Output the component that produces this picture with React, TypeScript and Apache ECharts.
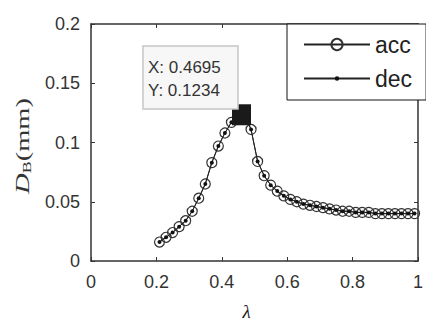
import React, { useEffect, useRef } from 'react';
import * as echarts from 'echarts';

const lambdaValues = [
  0.2095, 0.2295, 0.2495, 0.2695, 0.2895, 0.3095, 0.3295, 0.3495, 0.3695, 0.3895,
  0.4095, 0.4295, 0.4495, 0.4695, 0.4895, 0.5095, 0.5295, 0.5495, 0.5695, 0.5895,
  0.6095, 0.6295, 0.6495, 0.6695, 0.6895, 0.7095, 0.7295, 0.7495, 0.7695, 0.7895,
  0.8095, 0.8295, 0.8495, 0.8695, 0.8895, 0.9095, 0.9295, 0.9495, 0.9695, 0.9895,
];
const accValues = [
  0.016, 0.02, 0.024, 0.029, 0.034, 0.042, 0.053, 0.065, 0.083, 0.097,
  0.108, 0.117, 0.121, 0.1234, 0.111, 0.084, 0.072, 0.064, 0.059, 0.055,
  0.052, 0.05, 0.048, 0.047, 0.046, 0.045, 0.044, 0.043, 0.042, 0.042,
  0.041, 0.041, 0.041, 0.04, 0.04, 0.04, 0.04, 0.04, 0.04, 0.04,
];
const decValues = [
  0.016, 0.02, 0.024, 0.029, 0.034, 0.042, 0.053, 0.065, 0.083, 0.097,
  0.108, 0.117, 0.121, 0.1234, 0.111, 0.084, 0.072, 0.064, 0.059, 0.055,
  0.052, 0.05, 0.048, 0.047, 0.046, 0.045, 0.044, 0.043, 0.042, 0.042,
  0.041, 0.041, 0.041, 0.04, 0.04, 0.04, 0.04, 0.04, 0.04, 0.04,
];
const seriesNames = ['acc', 'dec'];
const datatipX = 0.4695;
const datatipY = 0.1234;
const xTickLabels = ['0', '0.2', '0.4', '0.6', '0.8', '1'];
const yTickLabels = ['0', '0.05', '0.1', '0.15', '0.2'];

const DOT = 'path://M0,0M10,10M5,3A2,2,0,1,1,5,7A2,2,0,1,1,5,3Z';

export default function App() {
  const ref = useRef<HTMLDivElement>(null);
  useEffect(() => {
    document.body.style.margin = '0';
    const chart = echarts.init(ref.current!, null, { renderer: 'svg' });
    const axisColor = '#333';
    const lineColor = '#222';
    const sans = 'Liberation Sans, Arial, sans-serif';
    const serif = 'Liberation Serif, Times New Roman, serif';
    const accData = lambdaValues.map((x, i) => [x, accValues[i]]);
    const decData = lambdaValues.map((x, i) => [x, decValues[i]]);
    const baseX = {
      type: 'value' as const,
      min: 0,
      max: 1,
      interval: 0.2,
      splitLine: { show: false },
      axisLine: { show: true, onZero: false, lineStyle: { color: axisColor, width: 1.5 } },
      axisTick: { show: true, inside: true, length: 4, lineStyle: { color: axisColor } },
    };
    const baseY = {
      type: 'value' as const,
      min: 0,
      max: 0.2,
      interval: 0.05,
      splitLine: { show: false },
      axisLine: { show: true, onZero: false, lineStyle: { color: axisColor, width: 1.5 } },
      axisTick: { show: true, inside: true, length: 4, lineStyle: { color: axisColor } },
    };
    chart.setOption({
      animation: false,
      backgroundColor: '#fff',
      grid: { left: 91, right: 2, top: 24, bottom: 59 },
      xAxis: [
        {
          ...baseX,
          position: 'bottom',
          axisLabel: {
            fontSize: 18,
            color: '#333',
            fontFamily: sans,
            margin: 12,
            formatter: (v: number) => xTickLabels[Math.round(v / 0.2)],
          },
          name: 'λ',
          nameLocation: 'middle',
          nameGap: 41,
          nameTextStyle: {
            fontSize: 19,
            fontStyle: 'italic',
            fontFamily: serif,
            color: '#222',
            padding: [0, 16, 0, 0],
          },
        },
        { ...baseX, position: 'top', axisLabel: { show: false } },
      ],
      yAxis: [
        {
          ...baseY,
          position: 'left',
          axisLabel: {
            fontSize: 18,
            color: '#333',
            fontFamily: sans,
            margin: 11,
            formatter: (v: number) => yTickLabels[Math.round(v / 0.05)],
          },
        },
        { ...baseY, position: 'right', axisLabel: { show: false } },
      ],
      legend: {
        data: seriesNames,
        orient: 'vertical',
        left: 287,
        top: 24,
        padding: [9, 14, 10, 16],
        itemGap: 11,
        itemWidth: 66,
        itemHeight: 14,
        backgroundColor: '#fff',
        borderColor: '#111',
        borderWidth: 1,
        borderRadius: 0,
        textStyle: { fontSize: 23, fontFamily: sans, color: '#222' },
      },
      graphic: [
        {
          type: 'rect',
          shape: { x: 143, y: 46, width: 95, height: 63 },
          style: { fill: '#f7f7f7', stroke: '#c6c6c6', lineWidth: 1.5 },
          z: 10,
        },
        {
          type: 'text',
          x: 148,
          y: 67,
          style: {
            text: 'X: 0.4695',
            fontSize: 17,
            fontFamily: sans,
            fill: '#333',
            align: 'left',
            verticalAlign: 'middle',
          },
          z: 11,
        },
        {
          type: 'text',
          x: 148,
          y: 90,
          style: {
            text: 'Y: 0.1234',
            fontSize: 17,
            fontFamily: sans,
            fill: '#333',
            align: 'left',
            verticalAlign: 'middle',
          },
          z: 11,
        },
        {
          type: 'text',
          x: 22,
          y: 146,
          rotation: Math.PI / 2,
          scaleX: 1.5,
          style: {
            text: '{d|D}{b|B}{m|(mm)}',
            align: 'center',
            verticalAlign: 'middle',
            fill: '#333',
            rich: {
              d: { fontSize: 19, fontStyle: 'italic', fontFamily: serif, fill: '#333', verticalAlign: 'middle' },
              b: { fontSize: 12, fontFamily: serif, fill: '#333', padding: [10, 0, 0, 0] },
              m: { fontSize: 19, fontFamily: serif, fill: '#333', verticalAlign: 'middle' },
            },
          },
        },
      ],
      series: [
        {
          name: 'acc',
          type: 'line',
          data: accData,
          symbol: 'circle',
          symbolSize: 10,
          showAllSymbol: true,
          lineStyle: { color: lineColor, width: 1 },
          itemStyle: { color: 'rgba(255,255,255,0)', borderColor: '#333', borderWidth: 1.2 },
          z: 2,
        },
        {
          name: 'dec',
          type: 'line',
          data: decData,
          symbol: DOT,
          symbolSize: 10,
          showAllSymbol: true,
          lineStyle: { color: lineColor, width: 1 },
          itemStyle: { color: '#111' },
          z: 3,
        },
        {
          name: 'datatip',
          type: 'scatter',
          data: [[datatipX, datatipY]],
          symbol: 'rect',
          symbolSize: [19, 21],
          symbolOffset: [-3, 0],
          itemStyle: { color: '#1a1a1a', opacity: 1 },
          z: 5,
        },
      ],
    });
    return () => chart.dispose();
  }, []);
  return (
    <div
      ref={ref}
      style={{ position: 'fixed', left: 0, top: 0, width: 426, height: 326 }}
    />
  );
}
